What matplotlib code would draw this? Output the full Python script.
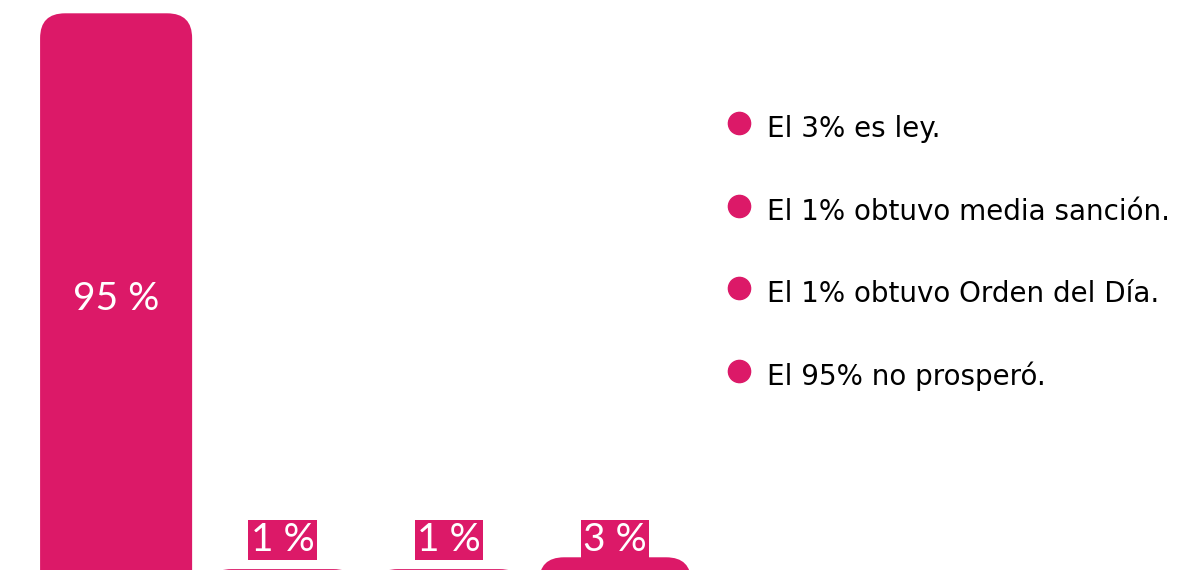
import matplotlib.pyplot as plt
from matplotlib.patches import FancyBboxPatch

# datos
valores = [95, 1, 1, 3]
etiquetas = ['95 %', '1 %', '1 %', '3 %']
leyenda = ['El 3% es ley.', 'El 1% obtuvo media sanción.',
           'El 1% obtuvo Orden del Día.', 'El 95% no prosperó.']

ROSA = '#DC1968'
ANCHO = 0.914

fig = plt.figure(figsize=(11.84, 5.70), dpi=100)
ax = fig.add_axes([0, 0, 1, 1])
ax.set_xlim(-0.698, 6.42)
ax.set_ylim(0.85, 97.25)
ax.axis('off')

# barras con esquinas redondeadas (la base queda fuera de la imagen)
for i, v in enumerate(valores):
    barra = FancyBboxPatch((i - ANCHO / 2, -12), ANCHO, v + 12,
                           boxstyle='round,pad=0,rounding_size=0.15',
                           mutation_aspect=28, fc=ROSA, ec='none')
    ax.add_patch(barra)
    ax.text(i, max(v / 2 - 0.8, 5.9), etiquetas[i], ha='center', va='center',
            color='white', fontsize=28, family='Lato',
            bbox=dict(boxstyle='square,pad=0.06', fc=ROSA, ec='none'))

# leyenda manual
for k, txt in enumerate(leyenda):
    yc = 1 - (123 + 82.7 * k) / 570
    yb = 1 - (137 + 82.7 * k) / 570
    ax.plot([739 / 1184], [yc], 'o', color=ROSA, markersize=16,
            transform=fig.transFigure, clip_on=False)
    fig.text(767 / 1184, yb, txt, ha='left', va='baseline',
             fontsize=20, family='DejaVu Sans', color='black')

fig.savefig('out.png', dpi=100)
